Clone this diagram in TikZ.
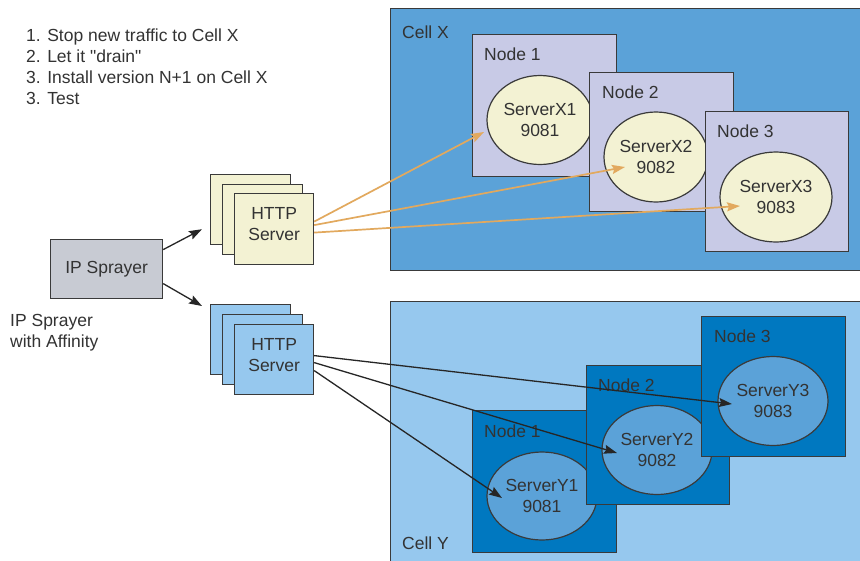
\documentclass[tikz,border=0pt]{standalone}
\usepackage{fontspec}
\setmainfont{Liberation Sans}
\newfontfamily\plainq[Ligatures=ResetAll]{Liberation Sans}
\usetikzlibrary{arrows.meta,calc,shapes.geometric}
\definecolor{txt}{HTML}{333333}
\definecolor{edge}{HTML}{3A3A3A}
\definecolor{cellx}{HTML}{5BA2D8}
\definecolor{celly}{HTML}{96C8EE}
\definecolor{nodex}{HTML}{C8CAE6}
\definecolor{nodey}{HTML}{0078C0}
\definecolor{cream}{HTML}{F3F2D3}
\definecolor{ellyc}{HTML}{5BA2D8}
\definecolor{spray}{HTML}{C8CBD3}
\definecolor{orng}{HTML}{E2A95E}
\tikzset{
  box/.style={draw=edge, line width=1.2pt, inner sep=0pt},
  srv/.style={ellipse, draw=edge, line width=1.2pt, inner sep=0pt, align=center, text=txt},
  lbl/.style={text=txt, inner sep=0pt, anchor=base west},
  ctext/.style={text=txt, inner sep=0pt, align=center},
  oarrow/.style={draw=orng, line width=1.7pt, -{Stealth[length=13pt,width=9pt,inset=2pt,fill=orng]}},
  karrow/.style={draw=black!85, line width=1.3pt, -{Stealth[length=13pt,width=9pt,inset=2pt]}},
}
\begin{document}
\begin{tikzpicture}[x=1pt,y=-1pt,font=\fontsize{17.5}{21}\selectfont]
\useasboundingbox (0,0) rectangle (860,560);
\clip (0,0) rectangle (860,560);
\fill[white] (0,0) rectangle (860,560);

% Instructions
\node[lbl] (l1) at (26,41) {1. Stop new traffic to Cell X};
\node[lbl] (l2) at (26,62) {\plainq 2. Let it "drain"};
\node[lbl] (l3) at (26,83) {3. Install version N+1 on Cell X};
\node[lbl] (l4) at (26,104) {3. Test};

% Cell X
\node[box, fill=cellx, minimum width=480pt, minimum height=262pt, anchor=north west] (cellx) at (390,8) {};
\node[lbl] (cellxl) at (402,38) {Cell X};
\node[box, fill=nodex, minimum width=144pt, minimum height=142pt, anchor=north west] (nx1) at (472,34) {};
\node[lbl] (nx1l) at (484,60) {Node 1};
\node[srv, fill=cream, minimum width=106pt, minimum height=89pt] (ex1) at (540,120) {ServerX1\\9081};
\node[box, fill=nodex, minimum width=144pt, minimum height=139pt, anchor=north west] (nx2) at (589,72) {};
\node[lbl] (nx2l) at (602,98) {Node 2};
\node[srv, fill=cream, minimum width=104pt, minimum height=90pt] (ex2) at (656,157) {ServerX2\\9082};
\node[box, fill=nodex, minimum width=143pt, minimum height=140pt, anchor=north west] (nx3) at (705,111) {};
\node[lbl] (nx3l) at (717,137) {Node 3};
\node[srv, fill=cream, minimum width=112pt, minimum height=90pt] (ex3) at (776,197) {ServerX3\\9083};

% Cell Y
\node[box, fill=celly, minimum width=480pt, minimum height=270pt, anchor=north west] (celly) at (390,301) {};
\node[lbl] (cellyl) at (402,549) {Cell Y};
\node[box, fill=nodey, minimum width=144pt, minimum height=142pt, anchor=north west] (ny1) at (472,410) {};
\node[lbl] (ny1l) at (484,437) {Node 1};
\node[srv, fill=ellyc, minimum width=110pt, minimum height=88pt] (ey1) at (542,496) {ServerY1\\9081};
\node[box, fill=nodey, minimum width=143pt, minimum height=139pt, anchor=north west] (ny2) at (586,365) {};
\node[lbl] (ny2l) at (598,391) {Node 2};
\node[srv, fill=ellyc, minimum width=110pt, minimum height=89pt] (ey2) at (657,450) {ServerY2\\9082};
\node[box, fill=nodey, minimum width=144pt, minimum height=140pt, anchor=north west] (ny3) at (701,316) {};
\node[lbl] (ny3l) at (714,342) {Node 3};
\node[srv, fill=ellyc, minimum width=110pt, minimum height=89pt] (ey3) at (773,401) {ServerY3\\9083};

% IP Sprayer
\node[box, fill=spray, minimum width=112pt, minimum height=59pt, anchor=north west] (spr) at (50,239) {};
\node[ctext] (sprt) at (spr.center) {IP Sprayer};
\node[lbl] (aff1) at (10,326) {IP Sprayer};
\node[lbl] (aff2) at (10,347) {with Affinity};

% HTTP servers X
\node[box, fill=cream, minimum width=80pt, minimum height=70pt, anchor=north west] (hxb) at (210,174) {};
\node[box, fill=cream, minimum width=80pt, minimum height=70pt, anchor=north west] (hxm) at (222,183.5) {};
\node[box, fill=cream, minimum width=79pt, minimum height=71pt, anchor=north west] (hxf) at (234,193) {};
\node[ctext] (hxt) at ($(hxf.center)+(0,-5)$) {HTTP\\Server};

% HTTP servers Y
\node[box, fill=celly, minimum width=80pt, minimum height=70pt, anchor=north west] (hyb) at (210,304) {};
\node[box, fill=celly, minimum width=80pt, minimum height=70pt, anchor=north west] (hym) at (222,314) {};
\node[box, fill=celly, minimum width=79pt, minimum height=70pt, anchor=north west] (hyf) at (234,324) {};
\node[ctext] (hyt) at ($(hyf.center)+(0,-5)$) {HTTP\\Server};

% Sprayer arrows
\draw[karrow] ($(spr.east)+(0,-19.5)$) -- ($(hxb.south west)+(-8,-16)$);
\draw[karrow] ($(spr.east)+(0,14.5)$) -- ($(hyb.north west)+(-8,2)$);

% Orange arrows
\draw[oarrow] ($(hxf.east)+(0,-7.5)$) -- ($(ex1.center)+(-56,12)$);
\draw[oarrow] ($(hxf.east)+(0,-4)$) -- ($(ex2.center)+(-31,10)$);
\draw[oarrow] ($(hxf.east)+(0,3.5)$) -- ($(ex3.center)+(-36,9)$);

% Black arrows
\draw[karrow] ($(hyf.east)+(0,-4)$) -- ($(ey3.center)+(-41,3)$);
\draw[karrow] ($(hyf.east)+(0,3)$) -- ($(ey2.center)+(-40,3)$);
\draw[karrow] ($(hyf.east)+(0,11)$) -- ($(ey1.center)+(-40,2)$);
\end{tikzpicture}
\end{document}
